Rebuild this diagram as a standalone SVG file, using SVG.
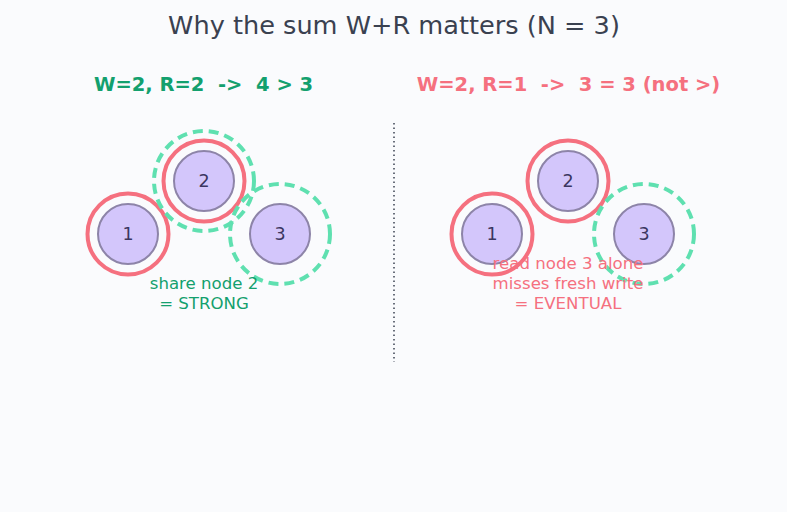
<svg xmlns="http://www.w3.org/2000/svg" width="787" height="512" viewBox="0 0 787 512">
<style>
.node{fill:#d3c6fb;stroke:#8d84a8;stroke-width:2}
.nt{font-family:"DejaVu Sans",sans-serif;font-size:17.5px;fill:#3b3660;text-anchor:middle}
.w{fill:none;stroke:#f5707f;stroke-width:4}
.r{fill:none;stroke:#5fe0b0;stroke-width:4;stroke-dasharray:10 6}
.lbl{font-family:"DejaVu Sans",sans-serif;font-size:16.6px;text-anchor:middle}
.hd{font-family:"DejaVu Sans",sans-serif;font-size:19.5px;font-weight:bold;text-anchor:middle;white-space:pre}
</style>
<rect width="787" height="512" fill="#fafbfd"/>
<text x="394" y="34" font-family="DejaVu Sans,sans-serif" font-size="25.6" fill="#3a4150" text-anchor="middle">Why the sum W+R matters (N = 3)</text>
<text class="hd" x="203.5" y="91" fill="#13a06e" xml:space="preserve">W=2, R=2  -&gt;  4 &gt; 3</text>
<text class="hd" x="568.5" y="91" fill="#f5707f" xml:space="preserve">W=2, R=1  -&gt;  3 = 3 (not &gt;)</text>
<g id="connectors">
<line x1="394" y1="123" x2="394" y2="362" stroke="#3a4150" stroke-width="1.5" stroke-dasharray="1.5 3"/>
</g>
<g id="left-quorums">
<circle class="w" cx="128" cy="234" r="40.5"/>
<circle class="w" cx="204" cy="181" r="40.5"/>
<circle class="r" cx="204" cy="181" r="50"/>
<circle class="r" cx="280" cy="234" r="50"/>
</g>
<g id="L1"><circle class="node" cx="128" cy="234" r="30"/><text class="nt" x="128" y="240">1</text></g>
<g id="L2"><circle class="node" cx="204" cy="181" r="30"/><text class="nt" x="204" y="187">2</text></g>
<g id="L3"><circle class="node" cx="280" cy="234" r="30"/><text class="nt" x="280" y="240">3</text></g>
<text class="lbl" fill="#13a06e" x="204" y="289">share node 2</text>
<text class="lbl" fill="#13a06e" x="204" y="309">= STRONG</text>
<g id="right-quorums">
<circle class="w" cx="492" cy="234" r="40.5"/>
<circle class="w" cx="568" cy="181" r="40.5"/>
<circle class="r" cx="644" cy="234" r="50"/>
</g>
<g id="R1"><circle class="node" cx="492" cy="234" r="30"/><text class="nt" x="492" y="240">1</text></g>
<g id="R2"><circle class="node" cx="568" cy="181" r="30"/><text class="nt" x="568" y="187">2</text></g>
<g id="R3"><circle class="node" cx="644" cy="234" r="30"/><text class="nt" x="644" y="240">3</text></g>
<text class="lbl" fill="#f5707f" x="568" y="269">read node 3 alone</text>
<text class="lbl" fill="#f5707f" x="568" y="289">misses fresh write</text>
<text class="lbl" fill="#f5707f" x="568" y="309">= EVENTUAL</text>
</svg>
